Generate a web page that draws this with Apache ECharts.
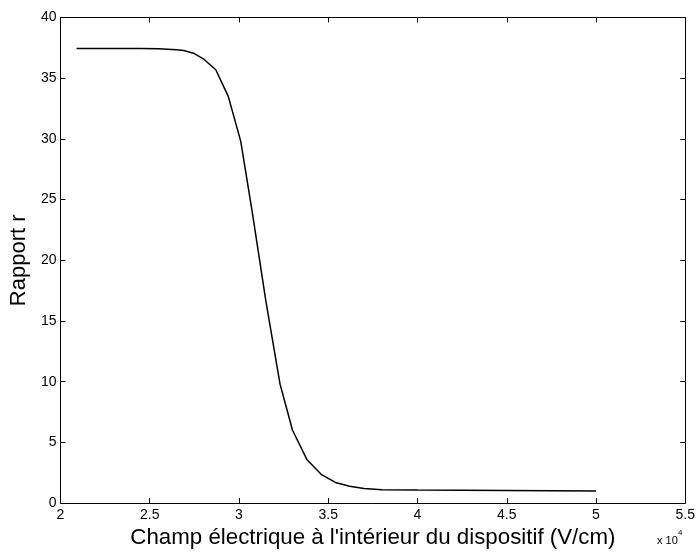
<!DOCTYPE html>
<html><head><meta charset="utf-8">
<script src="https://cdn.jsdelivr.net/npm/echarts@6/dist/echarts.min.js"></script>
<style>html,body{margin:0;padding:0;background:#fff}#c{width:698px;height:554px}</style>
</head><body><div id="c"></div>
<script>
// Electric field (x 10^4 V/cm)
const fieldValues = [2.09, 2.45, 2.55, 2.65, 2.69, 2.75, 2.80, 2.87, 2.94, 3.01, 3.075, 3.15, 3.23, 3.30, 3.38, 3.46, 3.54, 3.62, 3.70, 3.80, 4.0, 4.5, 5.0];
// Ratio r
const ratioValues = [37.45, 37.45, 37.42, 37.35, 37.28, 37.03, 36.6, 35.7, 33.5, 29.8, 23.9, 16.7, 9.8, 6.0, 3.6, 2.37, 1.70, 1.38, 1.20, 1.10, 1.07, 1.03, 1.0];
const xTickLabels = ['2', '2.5', '3', '3.5', '4', '4.5', '5', '5.5'];
const yTickLabels = ['0', '5', '10', '15', '20', '25', '30', '35', '40'];

const font = 'Liberation Sans, Arial, Helvetica, sans-serif';
const chart = echarts.init(document.getElementById('c'), null, {renderer: 'canvas'});
const baseX = {
  type: 'value', min: 2, max: 5.5, interval: 0.5,
  axisLine: {show: true, onZero: false, lineStyle: {color: '#000', width: 1}},
  axisTick: {show: true, inside: true, length: 5, lineStyle: {color: '#000'}},
  splitLine: {show: false}
};
const baseY = {
  type: 'value', min: 0, max: 40, interval: 5,
  axisLine: {show: true, onZero: false, lineStyle: {color: '#000', width: 1}},
  axisTick: {show: true, inside: true, length: 5, lineStyle: {color: '#000'}},
  splitLine: {show: false}
};
chart.setOption({
  animation: false,
  backgroundColor: '#fff',
  grid: {left: 59.5, right: 11, top: 17.5, bottom: 43},
  xAxis: [
    Object.assign({}, baseX, {
      position: 'bottom',
      axisLabel: {color: '#000', fontFamily: font, fontSize: 14, margin: 5,
        formatter: (v) => xTickLabels[Math.round((v - 2) / 0.5)]},
      name: "Champ électrique à l'intérieur du dispositif (V/cm)",
      nameLocation: 'middle', nameGap: 20,
      nameTextStyle: {color: '#000', fontFamily: font, fontSize: 22.3, verticalAlign: 'top'}
    }),
    Object.assign({}, baseX, {position: 'top', axisLabel: {show: false}})
  ],
  yAxis: [
    Object.assign({}, baseY, {
      position: 'left',
      axisLabel: {color: '#000', fontFamily: font, fontSize: 14, margin: 4,
        formatter: (v) => yTickLabels[Math.round(v / 5)]},
      name: 'Rapport r', nameLocation: 'middle', nameGap: 29,
      nameTextStyle: {color: '#000', fontFamily: font, fontSize: 22}
    }),
    Object.assign({}, baseY, {position: 'right', axisLabel: {show: false}})
  ],
  graphic: [
    {type: 'text', left: 657, top: 535,
     style: {text: 'x 10', fill: '#000', fontFamily: font, fontSize: 11}},
    {type: 'text', left: 678, top: 529,
     style: {text: '4', fill: '#000', fontFamily: font, fontSize: 8}}
  ],
  series: [{
    type: 'line', xAxisIndex: 0, yAxisIndex: 0,
    data: fieldValues.map((x, i) => [x, ratioValues[i]]),
    showSymbol: false, smooth: false,
    lineStyle: {color: '#000', width: 1.5}
  }]
});
</script></body></html>
